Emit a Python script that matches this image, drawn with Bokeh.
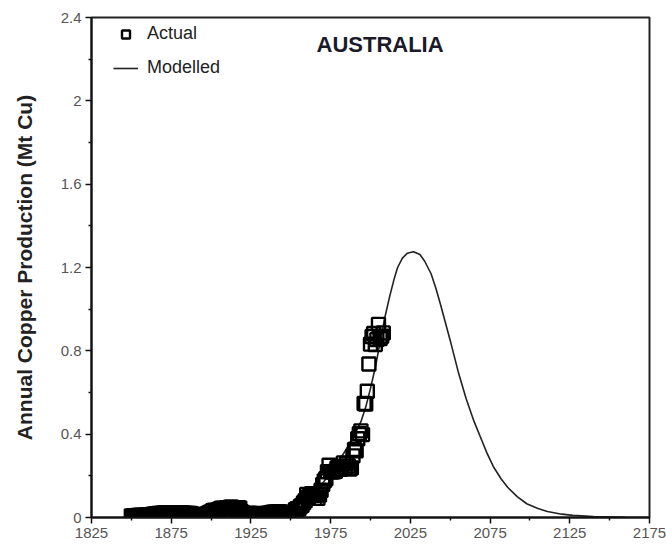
from bokeh.plotting import figure
from bokeh.models import Range1d, FixedTicker, Label, Legend, LegendItem
from bokeh.embed import file_html
from bokeh.resources import INLINE

# ---- data ----
actual_years = list(range(1850, 2009))
actual_mt = [
    0.008, 0.008, 0.009, 0.009, 0.010, 0.010, 0.011, 0.010, 0.010, 0.011,
    0.012, 0.013, 0.014, 0.015, 0.016, 0.017, 0.018, 0.019, 0.020, 0.020,
    0.021, 0.022, 0.022, 0.021, 0.021, 0.020, 0.020, 0.021, 0.022, 0.022,
    0.021, 0.022, 0.021, 0.021, 0.020, 0.020, 0.019, 0.019, 0.017, 0.015,
    0.013, 0.011, 0.011, 0.012, 0.012, 0.013, 0.014, 0.016, 0.020, 0.024,
    0.027, 0.033, 0.035, 0.032, 0.036, 0.039, 0.043, 0.045, 0.044, 0.043,
    0.046, 0.047, 0.049, 0.050, 0.043, 0.039, 0.041, 0.047, 0.046, 0.028,
    0.023, 0.015, 0.017, 0.019, 0.020, 0.020, 0.017, 0.016, 0.017, 0.018,
    0.019, 0.015, 0.016, 0.017, 0.018, 0.019, 0.020, 0.022, 0.024, 0.025,
    0.025, 0.026, 0.028, 0.027, 0.026, 0.024, 0.024, 0.020, 0.018, 0.017,
    0.018, 0.021, 0.022, 0.038, 0.042, 0.041, 0.053, 0.058, 0.071, 0.081,
    0.111, 0.098, 0.105, 0.114, 0.106, 0.092, 0.111, 0.092, 0.108, 0.131,
    0.158, 0.176, 0.186, 0.220, 0.251, 0.219, 0.219, 0.219, 0.222, 0.238,
    0.244, 0.231, 0.245, 0.262, 0.236, 0.260, 0.248, 0.233, 0.238, 0.296,
    0.327, 0.320, 0.378, 0.402, 0.416, 0.398, 0.547, 0.545, 0.606, 0.737,
    0.832, 0.869, 0.883, 0.830, 0.854, 0.927, 0.859, 0.870, 0.886,
]

model_years = [1845, 1900, 1920, 1930, 1940, 1950, 1955, 1960, 1965, 1970,
               1975, 1980, 1985, 1990, 1994, 1997, 2000, 2003, 2006, 2009,
               2012, 2015, 2017, 2020, 2023, 2027, 2031, 2034, 2038, 2041,
               2044, 2047, 2050, 2055, 2060, 2065, 2069, 2073, 2077, 2082,
               2086, 2092, 2098, 2105, 2111, 2120, 2127, 2140, 2160, 2175]
model_mt = [0.0, 0.001, 0.004, 0.008, 0.018, 0.04, 0.06, 0.085, 0.12, 0.165,
            0.215, 0.27, 0.33, 0.40, 0.46, 0.53, 0.62, 0.72, 0.84, 0.96,
            1.06, 1.15, 1.20, 1.245, 1.268, 1.276, 1.262, 1.23, 1.17, 1.10,
            1.02, 0.935, 0.85, 0.70, 0.57, 0.46, 0.385, 0.31, 0.245, 0.185,
            0.145, 0.10, 0.066, 0.043, 0.029, 0.016, 0.01, 0.004, 0.001, 0.0]

x_ticks = [1825, 1875, 1925, 1975, 2025, 2075, 2125, 2175]
x_minor = [1850, 1900, 1950, 2000, 2050, 2100, 2150]
y_ticks = [0, 0.4, 0.8, 1.2, 1.6, 2.0, 2.4]
y_minor = [0.2, 0.6, 1.0, 1.4, 1.8, 2.2]
y_tick_labels = {0: "0", 0.4: "0.4", 0.8: "0.8", 1.2: "1.2", 1.6: "1.6", 2.0: "2", 2.4: "2.4"}

title_text = "AUSTRALIA"
y_label = "Annual Copper Production (Mt Cu)"

FONT = "Liberation Sans"

p = figure(width=666, height=547, output_backend="svg", toolbar_location=None,
           x_range=Range1d(1825, 2175), y_range=Range1d(0, 2.4),
           min_border_left=91, min_border_right=17, min_border_top=17,
           min_border_bottom=30)
p.background_fill_color = "white"
p.border_fill_color = "white"
p.outline_line_color = "#222222"
p.outline_line_width = 2
p.grid.visible = False

for ax in (p.xaxis[0], p.yaxis[0]):
    ax.axis_line_color = "#111111"
    ax.axis_line_width = 2
    ax.major_tick_line_color = "#111111"
    ax.minor_tick_line_color = "#111111"
    ax.major_tick_line_width = 1.5
    ax.minor_tick_line_width = 1.5
    ax.major_tick_out = 6
    ax.major_tick_in = 0
    ax.minor_tick_out = 3
    ax.minor_tick_in = 0
    ax.major_label_text_font = FONT
    ax.major_label_text_font_size = "15px"
    ax.major_label_text_color = "#555555"
    ax.major_label_standoff = 4

p.xaxis.ticker = FixedTicker(ticks=x_ticks, minor_ticks=x_minor)
p.yaxis.ticker = FixedTicker(ticks=y_ticks, minor_ticks=y_minor)
p.yaxis.major_label_overrides = y_tick_labels

p.yaxis.axis_label = y_label
p.yaxis.axis_label_text_font = FONT
p.yaxis.axis_label_text_font_size = "21px"
p.yaxis.axis_label_text_font_style = "bold"
p.yaxis.axis_label_text_color = "#222222"
p.yaxis.axis_label_standoff = 22

r_line = p.line(model_years, model_mt, line_color="#222222", line_width=1.6)
r_pts = p.scatter(actual_years, actual_mt, marker="square", size=13,
                  fill_color=None, line_color="#000000", line_width=2.4)

legend = Legend(items=[LegendItem(label="Actual", renderers=[r_pts]),
                       LegendItem(label="Modelled", renderers=[r_line])],
                location=(22, 439))
legend.background_fill_alpha = 0
legend.border_line_color = None
legend.padding = 0
legend.margin = 0
legend.spacing = 13
legend.glyph_width = 25
legend.glyph_height = 20
legend.label_standoff = 9
legend.label_text_font = FONT
legend.label_text_font_size = "18px"
legend.label_text_color = "#222222"
p.add_layout(legend)

p.add_layout(Label(x=2006, y=2.27, text=title_text, text_align="center",
                   text_baseline="middle", text_font=FONT,
                   text_font_size="22px", text_font_style="bold",
                   text_color="#1a1a2a"))

open("out.html", "w").write(file_html(p, INLINE))
